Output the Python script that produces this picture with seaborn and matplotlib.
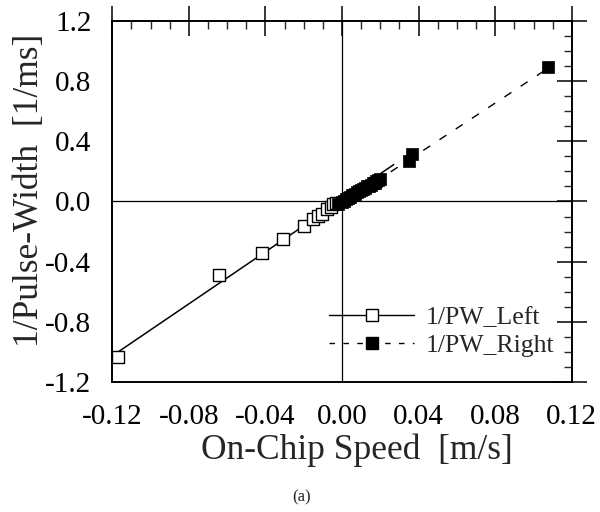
import numpy as np
import matplotlib
matplotlib.use("Agg")
import matplotlib.pyplot as plt
from matplotlib.lines import Line2D
from matplotlib.ticker import MultipleLocator
import pandas as pd
import seaborn as sns

# Data
left_speed = [-0.117, -0.064, -0.042, -0.031, -0.020, -0.015, -0.0125, -0.0105,
              -0.008, -0.006, -0.0047, -0.003]
left_inv_pw = [-1.035, -0.49, -0.343, -0.25, -0.163, -0.116, -0.097, -0.083,
               -0.05, -0.037, -0.017, -0.01]

right_speed = [-0.002, 0.0, 0.001, 0.002, 0.003, 0.004, 0.005, 0.006, 0.007, 0.008,
               0.009, 0.010, 0.011, 0.012, 0.013, 0.014, 0.015, 0.016, 0.017, 0.018,
               0.019, 0.020, 0.035, 0.0365, 0.1074]
right_inv_pw = [-0.02, -0.005, 0.005, 0.015, 0.02, 0.03, 0.04, 0.045, 0.05, 0.06,
                0.07, 0.075, 0.085, 0.09, 0.10, 0.105, 0.11, 0.12, 0.125, 0.135,
                0.14, 0.15, 0.27, 0.316, 0.894]

# fit lines (end points)
left_fit_x = [-0.118, 0.027]
left_fit_y = [-1.01, 0.245]
right_fit_x = [0.0, 0.108]
right_fit_y = [-0.016, 0.889]

left_df = pd.DataFrame({'speed': left_speed, 'inv_pw': left_inv_pw})
right_df = pd.DataFrame({'speed': right_speed, 'inv_pw': right_inv_pw})

sns.set_style("white")
plt.rcParams['font.family'] = ['Liberation Serif', 'DejaVu Serif']

fig = plt.figure(figsize=(6, 5.12), dpi=100)
ax = fig.add_axes([0.187, 0.254, 0.766, 0.705])

# zero lines
ax.axhline(0, color='black', lw=0.9, zorder=1)
ax.axvline(0, color='black', lw=0.9, zorder=1)

dash = (0, (6, 8))
sns.lineplot(x=left_fit_x, y=left_fit_y, ax=ax, color='black', lw=1.1, zorder=2)
ax.plot(right_fit_x, right_fit_y, color='black', lw=1.0, linestyle=dash, zorder=2)

sns.scatterplot(data=left_df, x='speed', y='inv_pw', ax=ax, marker='s', s=85,
                facecolor='white', edgecolor='black', linewidth=1.0, zorder=3)
sns.scatterplot(data=right_df, x='speed', y='inv_pw', ax=ax, marker='s', s=75,
                color='black', edgecolor='black', linewidth=0.5, zorder=4)

ax.set_xlim(-0.12, 0.12)
ax.set_ylim(-1.2, 1.2)
ax.xaxis.set_major_locator(MultipleLocator(0.04))
ax.xaxis.set_minor_locator(MultipleLocator(0.01))
ax.yaxis.set_major_locator(MultipleLocator(0.4))
ax.yaxis.set_minor_locator(MultipleLocator(0.1))
ax.xaxis.set_major_formatter(plt.FuncFormatter(lambda v, p: f"{v:.2f}".replace("-0.00", "0.00")))
ax.yaxis.set_major_formatter(plt.FuncFormatter(lambda v, p: f"{v:.1f}".replace("-0.0", "0.0")))

ax.tick_params(which='major', direction='inout', length=22, width=1.1,
               top=True, right=True, labelsize=21, colors='black')
ax.tick_params(axis='x', which='major', pad=5)
ax.tick_params(axis='y', which='major', pad=4)
ax.tick_params(which='minor', direction='in', length=6, width=1.0,
               top=True, right=True)
for sp in ax.spines.values():
    sp.set_linewidth(1.4)
    sp.set_color('black')

ax.set_xlabel('On-Chip Speed  [m/s]', fontsize=25.5, va='center')
ax.set_ylabel('1/Pulse-Width  [1/ms]', fontsize=25.5, va='center')
ax.xaxis.set_label_coords(0.533, -0.19)
ax.yaxis.set_label_coords(-0.18, 0.532)

handles = [
    Line2D([], [], color='black', lw=1.0, marker='s', markersize=9,
           markerfacecolor='white', markeredgecolor='black'),
    Line2D([], [], color='black', lw=1.0, linestyle=(0, (4, 6)), marker='s',
           markersize=8, markerfacecolor='black', markeredgecolor='black'),
]
ax.legend(handles, ['1/PW_Left', '1/PW_Right'], loc='lower right',
          bbox_to_anchor=(0.963, 0.07), frameon=False, fontsize=18.5,
          handlelength=3.3, handletextpad=0.47, labelspacing=0.2,
          borderpad=0, borderaxespad=0)

fig.text(302 / 600, 1 - 497 / 512, '(a)', fontsize=12, ha='center', va='center')

fig.savefig('out.png', dpi=100)
